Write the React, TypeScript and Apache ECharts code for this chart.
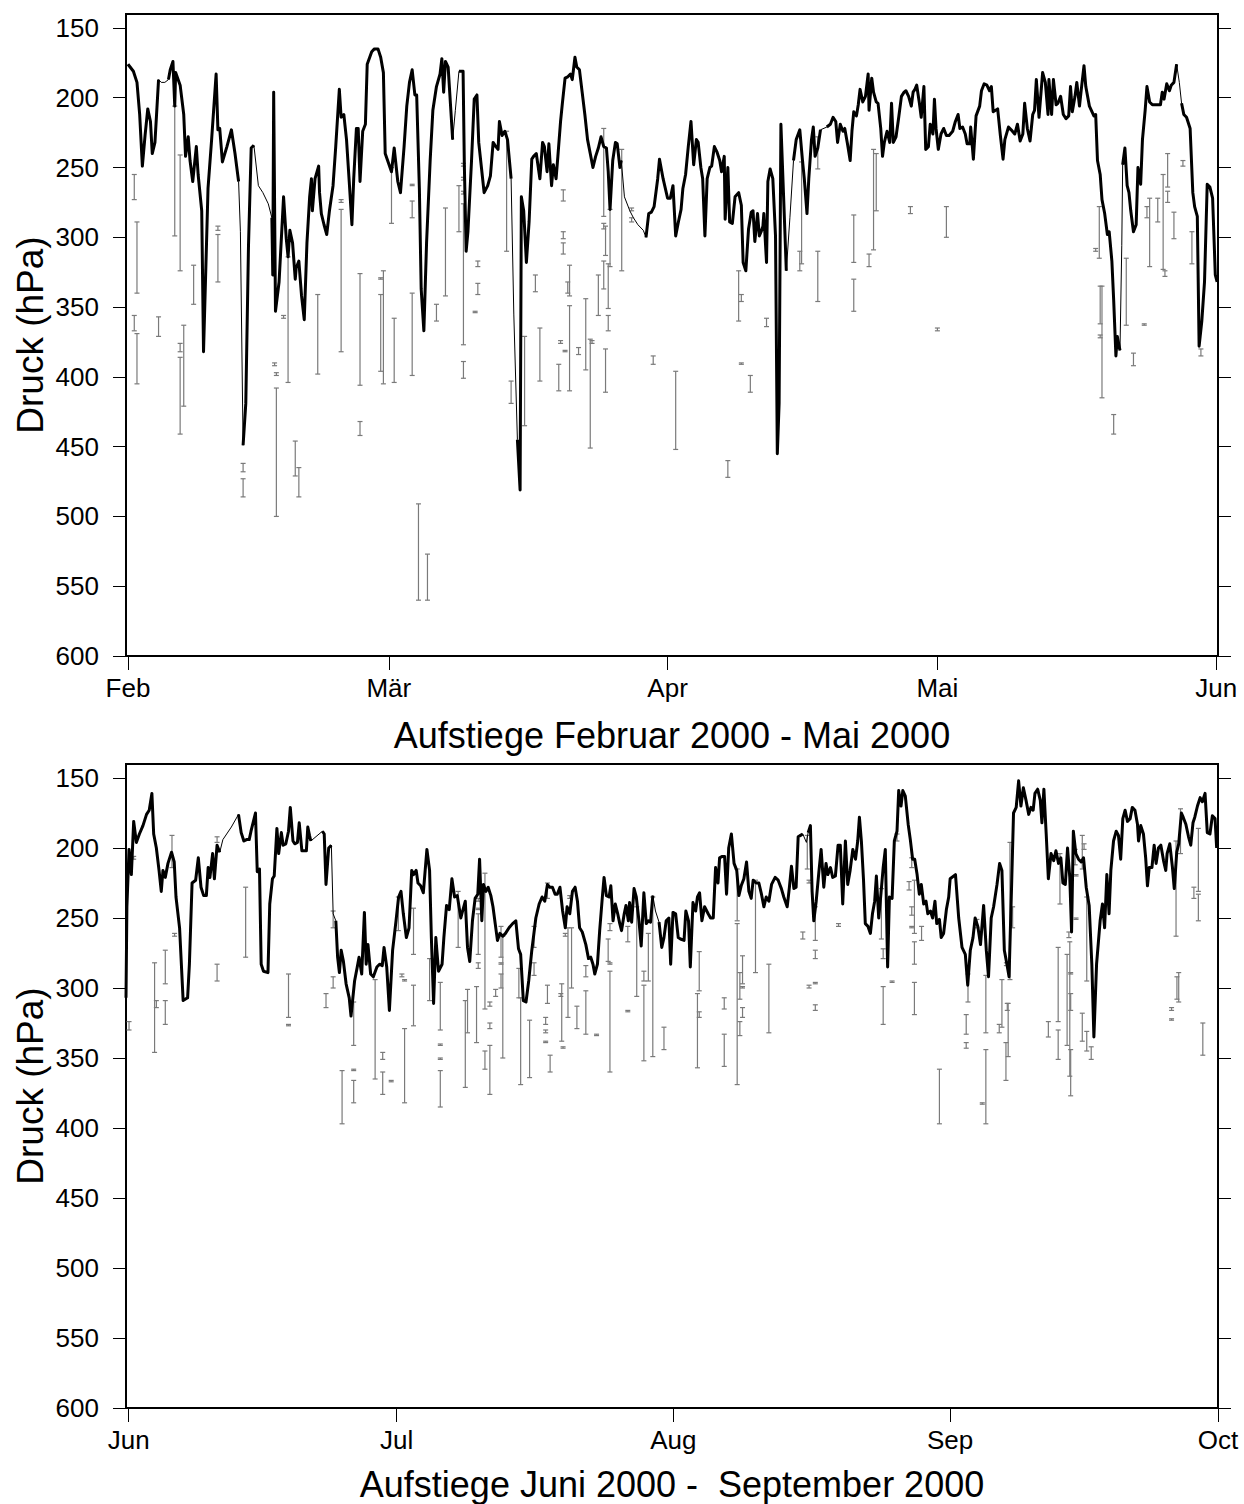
import React, { useEffect, useRef } from 'react';
import * as echarts from 'echarts';

const FONT = '"Liberation Sans", Arial, Helvetica, sans-serif';

// x values: days since first day of the first month in each panel
const febMayMonths = ['Feb', 'Mär', 'Apr', 'Mai', 'Jun'];
const febMayMonthDays = [0, 29, 60, 90, 121];
const junSepMonths = ['Jun', 'Jul', 'Aug', 'Sep', 'Oct'];
const junSepMonthDays = [0, 30, 61, 92, 122];
const pressureTicks = [150, 200, 250, 300, 350, 400, 450, 500, 550, 600];

const febMayTitle = 'Aufstiege Februar 2000 - Mai 2000';
const junSepTitle = 'Aufstiege Juni 2000 -  September 2000';
const yName = 'Druck (hPa)';

// tropopause pressure [day, hPa]
const febMayLine: number[][] = [
  [0,176],[0.6,181],[1.0,189],[1.3,212],[1.6,249],[1.9,227],[2.2,208],[2.5,217],[2.7,240],[3.0,232],[3.4,187],[3.7,189],[4.1,189],[4.5,187],[4.7,180],[5.0,174],[5.2,206],[5.3,182],[5.8,191],[6.2,212],[6.4,242],[6.7,228],[6.9,245],[7.2,260],[7.6,235],[7.8,255],[8.2,281],[8.4,382],[8.9,265],[9.3,230],[9.8,183],[10.0,223],[10.2,222],[10.5,246],[11.0,235],[11.5,223],[11.9,240],[12.3,260],[12.5,296],[12.8,449],[13.1,419],[13.4,306],[13.7,236],[14.0,234],[14.5,263],[15.0,268],[15.6,276],[16.0,286],[16.1,327],[16.2,196],[16.4,353],[16.8,332],[17.3,271],[17.6,301],[17.8,314],[18.0,295],[18.3,304],[18.6,330],[18.7,322],[19.0,317],[19.3,342],[19.6,359],[19.9,304],[20.2,271],[20.4,258],[20.5,281],[20.8,258],[21.2,249],[21.3,268],[21.5,283],[21.8,291],[22.1,298],[22.4,281],[22.8,263],[23.1,235],[23.5,194],[23.7,214],[24.0,212],[24.3,230],[24.6,260],[24.9,291],[25.1,258],[25.4,222],[25.6,222],[25.8,260],[26.1,224],[26.4,219],[26.6,176],[27.1,167],[27.4,165],[27.8,165],[28.1,171],[28.4,182],[28.6,240],
  [29.3,253],[29.6,236],[30.0,260],[30.3,268],[30.7,235],[31.0,206],[31.3,189],[31.6,180],[31.9,198],[32.1,198],[32.4,265],[32.6,337],[32.9,367],[33.2,304],[33.6,245],[33.9,209],[34.3,192],[34.7,183],[34.9,172],[35.1,196],[35.3,174],[35.6,178],[35.9,209],[36.1,230],[36.4,209],[36.8,181],[37.0,181],[37.26,181],[37.4,248],[37.6,310],[37.8,296],[38.2,245],[38.5,201],[38.8,198],[39.0,232],[39.3,250],[39.6,268],[40.0,263],[40.3,256],[40.6,232],[40.9,235],[41.15,237],[41.3,217],[41.6,227],[41.9,224],[42.2,230],[42.6,258],[42.9,355],[43.3,445],[43.6,481],[43.74,271],[44.0,281],[44.3,318],[44.6,289],[44.9,244],[45.1,242],[45.4,240],[45.8,258],[46.1,232],[46.3,235],[46.6,253],[46.8,233],[47.1,263],[47.3,248],[47.6,258],[47.8,242],[48.1,217],[48.3,204],[48.6,186],[48.9,185],[49.2,183],[49.4,187],[49.7,171],[49.9,178],[50.2,180],[50.5,196],[50.8,212],[51.1,230],[51.4,240],[51.7,250],[52.0,242],[52.3,236],[52.6,228],[52.9,235],[53.2,236],[53.4,253],[53.6,280],[53.9,245],[54.2,232],[54.4,233],[54.7,250],[54.85,245],[55.2,271],[55.8,281],[56.2,286],[56.7,291],[57.3,295],[57.6,300],[57.9,283],[58.2,282],[58.5,278],[58.9,258],[59.1,244],[59.5,258],
  [60.0,272],[60.3,272],[60.6,263],[60.9,299],[61.2,289],[61.5,280],[61.7,265],[62.0,255],[62.3,235],[62.6,217],[62.9,248],[63.2,230],[63.4,232],[63.7,250],[63.9,258],[64.15,299],[64.4,258],[64.7,250],[64.9,249],[65.2,235],[65.5,239],[65.8,245],[66.0,253],[66.3,242],[66.4,287],[66.7,250],[66.9,289],[67.2,290],[67.5,271],[67.9,268],[68.2,277],[68.4,318],[68.7,324],[69.0,294],[69.3,282],[69.5,281],[69.7,303],[70.0,283],[70.2,299],[70.4,296],[70.6,292],[70.7,283],[71.0,318],[71.15,260],[71.4,251],[71.7,258],[72.0,299],[72.2,455],[72.4,419],[72.6,219],[72.9,271],[73.2,324],[73.6,286],[74.0,245],[74.3,230],[74.7,223],[75.0,245],[75.2,258],[75.5,283],[75.7,258],[76.0,230],[76.2,221],[76.4,242],[76.7,236],[77.0,223],[77.7,221],[78.1,219],[78.4,214],[78.7,217],[78.9,232],[79.2,219],[79.5,224],[79.7,222],[80.0,233],[80.3,245],[80.5,224],[80.7,210],[81.0,213],[81.2,205],[81.4,194],[81.7,203],[82.0,199],[82.3,183],[82.4,209],[82.7,186],[82.9,196],[83.2,203],[83.4,204],[83.7,222],[83.9,242],[84.1,232],[84.4,224],[84.7,232],[84.9,204],[85.1,232],[85.4,228],[85.7,214],[86.0,199],[86.3,196],[86.5,195],[86.8,199],[87.1,206],[87.3,196],[87.5,194],[87.7,191],[88.0,204],[88.2,214],[88.5,192],[88.7,237],[89.0,235],[89.2,219],[89.5,226],[89.67,201],
  [89.85,222],[90.1,237],[90.4,226],[90.7,222],[91.0,227],[91.3,227],[91.7,224],[92.0,217],[92.3,212],[92.5,222],[92.8,221],[93.1,226],[93.3,233],[93.6,233],[93.7,221],[94.0,244],[94.3,213],[94.7,206],[94.9,195],[95.2,190],[95.5,191],[95.8,195],[96.0,192],[96.2,210],[96.7,208],[97.0,227],[97.3,244],[97.5,230],[97.9,221],[98.2,223],[98.6,226],[98.9,219],[99.2,231],[99.5,226],[99.7,204],[100.0,222],[100.3,231],[100.6,212],[100.8,209],[101.0,187],[101.3,214],[101.5,198],[101.7,182],[102.0,189],[102.3,212],[102.4,187],[102.7,212],[102.9,187],[103.2,205],[103.4,204],[103.7,199],[104.0,212],[104.3,215],[104.6,213],[104.8,192],[105.0,210],[105.3,199],[105.5,189],[105.8,206],[106.0,194],[106.3,177],[106.5,192],[106.9,206],[107.4,213],[107.6,212],[107.8,245],[108.1,255],[108.3,273],[108.6,283],[108.9,298],[109.1,296],[109.4,317],[109.6,345],[109.85,385],[110.0,371],[110.3,381],[110.5,306],[110.6,248],[110.85,236],[111.1,263],[111.3,268],[111.5,281],[111.8,296],[112.1,291],[112.3,250],[112.6,262],[112.8,230],[113.1,209],[113.3,192],[113.6,203],[113.9,205],[114.4,205],[114.8,205],[115.0,196],[115.2,201],[115.5,190],[115.8,195],[116.0,191],[116.3,189],[116.6,176],[116.9,189],[117.15,204],[117.4,212],[117.7,214],[118.1,222],[118.4,268],[118.6,278],[118.9,285],[119.1,378],[119.4,360],[119.7,332],[120.0,262],[120.3,264],[120.6,272],[120.9,327],[121.1,332]
];
// day ranges where observations are missing (line drawn thin)
const febMayGaps: number[][] = [[3.4,4.5],[12.3,12.8],[14.0,16.0],[36.1,36.8],[42.6,43.3],[54.85,57.6],[73.2,74.0],[76.9,77.7],[110.3,110.6],[116.6,117.2]];

// error bars [day, upper hPa, lower hPa]
const febMayBars: number[][] = [
  [0.7,255,273],[1.0,289,340],[0.7,356,367],[1.0,369,405],[3.4,357,371],[5.2,206,299],[5.8,241,324],[5.8,376,382],[5.8,386,441],[6.2,363,421],[7.3,320,348],[10.0,292,295],[10.0,298,332],[12.8,462,468],[12.8,473,486],[16.3,390,392],[16.5,397,399],[16.5,408,500],[17.3,356,358],[17.8,314,404],[18.6,446,471],[19.0,465,486],[21.1,341,398],[23.7,273,275],[23.7,280,382],[25.8,326,406],[25.8,432,442],[28.1,329,330],[28.1,341,396],[28.4,324,405],[29.3,250,290],[29.6,358,404],
  [31.6,262,263],[31.6,274,286],[31.6,340,399],[32.3,491,560],[33.3,527,560],[34.3,348,360],[35.3,279,342],[36.8,263,296],[37.3,247,249],[37.3,257,259],[37.3,267,269],[37.3,276,377],[37.3,389,401],[38.9,317,321],[38.9,333,341],[38.6,353,354],[42.1,224,310],[42.6,403,419],[44.1,371,435],[45.3,327,339],[45.8,365,403],[48.4,266,274],[48.4,296,301],[48.4,304,312],[48.1,374,376],[48.6,381,382],[47.9,391,410],[48.9,332,340],[49.1,320,342],[49.1,349,410],[50.1,379,384],[50.9,344,395],[51.4,373,451],[51.6,374,376],[52.3,327,356],[52.9,222,285],[52.9,290,294],[52.9,317,337],[53.1,292,313],[53.1,380,411],[53.4,319,351],[53.4,356,367],[53.6,280,321],[54.9,237,324],[56.0,279,281],[56.0,286,289],[58.4,385,391],
  [60.9,396,452],[66.7,460,472],[67.9,324,360],[68.2,341,346],[68.2,390,391],[69.2,399,411],[71.0,358,364],[74.7,310,324],[74.9,246,319],[76.7,228,251],[76.7,310,346],[80.7,284,318],[80.7,330,353],[82.4,312,321],[82.9,237,309],[83.2,240,281],[87.0,278,283],[90.0,365,367],[91.0,278,300],
  [107.6,308,310],[108.0,278,315],[108.1,335,362],[108.1,370,372],[108.3,335,415],[109.6,427,441],[111.0,315,363],[111.8,383,392],[113.0,362,363],[113.3,278,286],[113.6,272,321],[114.5,272,289],[115.1,255,323],[115.3,324,328],[115.6,240,264],[115.6,267,275],[116.3,282,301],[117.3,245,249],[118.3,296,319],[119.3,380,385]
];

const junSepLine: number[][] = [
  [-0.3,307],[-0.2,242],[0.04,201],[0.3,219],[0.56,181],[0.86,196],[1.2,190],[1.6,184],[2.0,176],[2.3,173],[2.6,161],[2.8,190],[3.1,200],[3.4,216],[3.65,231],[3.84,216],[4.1,221],[4.4,211],[4.8,203],[5.1,210],[5.3,235],[5.7,257],[6.1,309],[6.6,307],[6.8,283],[7.1,225],[7.5,223],[7.8,207],[8.1,228],[8.4,234],[8.7,234],[8.9,214],[9.1,221],[9.4,204],[9.6,222],[9.9,198],[10.2,203],[10.55,194],[11.5,185],[12.3,176],[12.6,189],[12.9,195],[13.2,194],[13.5,194],[13.7,188],[14.2,175],[14.4,217],[14.65,215],[14.84,283],[15.1,288],[15.6,289],[15.8,240],[16.1,222],[16.3,220],[16.6,186],[16.8,204],[17.1,189],[17.3,198],[17.6,197],[17.9,188],[18.1,171],[18.4,195],[18.6,197],[18.9,196],[19.1,182],[19.4,202],[19.6,202],[19.9,202],[20.06,185],[20.25,191],[20.4,195],[21.7,188],[21.9,190],[22.1,226],[22.4,200],[22.7,198],[22.9,247],[23.2,252],[23.4,278],[23.6,289],[23.8,273],[24.05,281],[24.35,297],[24.7,307],[24.9,320],[25.3,295],[25.6,285],[25.8,278],[26.1,290],[26.4,246],[26.6,283],[26.8,269],[27.1,290],[27.4,292],[27.8,285],[28.1,283],[28.4,284],[28.6,271],[28.9,285],[29.2,316],
  [29.56,273],[29.94,252],[30.23,235],[30.5,231],[30.76,247],[31.1,264],[31.4,257],[31.7,216],[31.9,219],[32.2,216],[32.4,225],[32.7,227],[33.0,232],[33.4,201],[33.7,216],[33.9,264],[34.15,311],[34.4,264],[34.7,288],[35.1,283],[35.3,264],[35.6,241],[35.9,244],[36.2,222],[36.5,235],[36.8,234],[37.2,250],[37.4,245],[37.7,238],[37.95,271],[38.2,281],[38.5,252],[38.8,236],[39.1,233],[39.3,208],[39.55,252],[39.74,226],[40.0,231],[40.26,228],[40.56,234],[40.8,242],[41.05,254],[41.3,266],[41.57,261],[41.9,263],[42.2,261],[42.6,257],[43.0,254],[43.36,252],[43.66,272],[43.9,276],[44.2,309],[44.5,310],[44.8,295],[45.15,273],[45.6,250],[45.97,240],[46.3,235],[46.6,238],[46.9,226],[47.16,228],[47.46,228],[47.76,233],[48.0,233],[48.3,228],[48.6,245],[48.9,257],[49.1,242],[49.4,247],[49.7,231],[50.0,228],[50.26,238],[50.5,257],[50.8,260],[51.2,269],[51.5,279],[51.75,278],[52.0,283],[52.2,290],[52.5,283],[52.75,259],[53.05,235],[53.24,221],[53.5,234],[53.8,235],[54.0,227],[54.25,252],[54.5,240],[54.77,247],[55.0,254],[55.2,259],[55.5,247],[55.7,241],[55.96,252],[56.1,239],[56.33,253],[56.6,229],[56.85,235],[57.15,252],[57.4,270],[57.7,232],[57.97,254],[58.2,252],[58.45,253],[58.7,234],[59.0,245],[59.4,253],[59.7,271],[59.95,264],[60.2,252],[60.5,250],[60.7,283],[60.96,246],[61.26,247],[61.55,264],
  [61.8,265],[62.2,266],[62.4,245],[62.7,252],[62.9,285],[63.2,239],[63.5,245],[63.7,235],[63.94,232],[64.2,252],[64.5,242],[64.9,247],[65.17,250],[65.47,250],[65.73,214],[66.0,225],[66.18,207],[66.48,206],[66.74,206],[66.96,233],[67.2,200],[67.5,190],[67.8,211],[68.1,216],[68.34,234],[68.6,227],[68.9,222],[69.2,210],[69.46,231],[69.72,236],[69.94,223],[70.28,225],[70.58,225],[70.87,233],[71.14,242],[71.4,235],[71.7,238],[72.0,226],[72.4,221],[72.74,223],[73.1,229],[73.37,235],[73.75,242],[74.0,228],[74.23,213],[74.5,229],[74.75,228],[74.98,192],[75.24,191],[75.5,190],[75.9,196],[76.1,189],[76.35,184],[76.54,231],[76.73,252],[77.0,238],[77.3,217],[77.55,201],[77.85,228],[78.1,211],[78.3,219],[78.6,214],[78.85,221],[79.15,220],[79.45,198],[79.7,198],[79.97,240],[80.27,195],[80.53,226],[80.8,216],[81.1,201],[81.4,208],[81.65,195],[81.84,178],[82.06,195],[82.3,223],[82.5,254],[82.8,256],[83.07,261],[83.3,247],[83.55,238],[83.74,220],[84.0,250],[84.26,232],[84.5,214],[84.74,201],[85.0,285],[85.2,235],[85.5,236],[85.75,195],[86.05,188],[86.24,159],[86.5,170],[86.7,159],[86.98,163],[87.3,183],[87.54,194],[87.8,208],[88.03,208],[88.3,219],[88.55,233],[88.77,226],[89.04,240],[89.3,238],[89.5,247],[89.8,245],[90.04,250],[90.3,238],[90.5,254],[90.8,251],[91.0,264],[91.27,261],
  [91.58,244],[91.84,235],[92.0,222],[92.6,219],[92.96,250],[93.33,271],[93.7,276],[93.97,298],[94.26,273],[94.56,264],[94.8,250],[95.1,256],[95.4,269],[95.75,241],[96.05,273],[96.3,292],[96.6,250],[96.87,242],[97.25,226],[97.54,211],[97.8,216],[98.07,273],[98.36,283],[98.6,292],[98.9,223],[99.1,175],[99.4,171],[99.67,152],[99.93,170],[100.2,157],[100.5,166],[100.8,176],[101.05,171],[101.3,173],[101.5,161],[101.8,158],[102.1,166],[102.28,182],[102.5,158],[102.76,190],[103.0,222],[103.3,204],[103.6,209],[103.85,202],[104.14,211],[104.4,207],[104.63,225],[104.9,226],[105.15,200],[105.4,221],[105.6,260],[105.8,188],[106.08,204],[106.38,208],[106.68,210],[106.94,207],[107.24,228],[107.57,241],[107.87,283],[108.1,335],[108.4,283],[108.8,252],[109.06,240],[109.3,257],[109.55,219],[109.8,247],[110.0,216],[110.3,195],[110.6,188],[110.85,191],[111.1,208],[111.34,179],[111.6,173],[111.86,181],[112.16,179],[112.4,171],[112.7,173],[112.98,183],[113.1,195],[113.35,184],[113.65,190],[113.9,207],[114.1,227],[114.3,214],[114.6,214],[114.85,198],[115.07,211],[115.33,200],[115.6,198],[115.9,209],[116.15,216],[116.3,204],[116.6,197],[116.9,214],[117.1,229],[117.38,203],[117.6,197],[117.9,175],[118.1,178],[118.4,183],[118.7,192],[118.95,198],[119.2,182],[119.4,178],[119.7,170],[120.0,164],[120.25,167],[120.55,161],[120.8,189],[121.1,190],[121.37,177],[121.67,179],[121.85,200]
];
const junSepGaps: number[][] = [[10.2,12.3],[20.4,21.7],[22.7,23.2],[58.7,59.4],[75.5,76.1]];

const junSepBars: number[][] = [
  [0.04,324,330],[0.56,206,208],[2.9,282,346],[3.1,309,314],[4.1,273,297],[4.1,309,326],[4.85,191,214],[5.14,261,263],[9.9,283,295],[9.9,192,196],[13.1,228,278],[17.9,290,321],[17.9,326,327],[22.9,245,257],[22.9,292,300],[22.1,304,314],[23.9,359,397],[25.2,310,341],[25.2,358,359],[25.2,366,382],[27.6,294,365],[28.45,346,351],[28.45,360,376],[29.4,366,367],[30.2,235,259],
  [30.6,290,292],[30.9,294,295],[30.9,329,382],[31.9,243,276],[31.9,298,327],[33.7,279,309],[34.9,296,330],[34.9,340,341],[34.9,350,351],[34.9,359,385],[36.9,231,271],[37.7,309,371],[37.95,301,332],[38.96,299,339],[39.15,236,238],[39.15,243,244],[39.15,247,276],[39.15,282,286],[39.9,218,315],[39.9,345,358],[40.45,310,313],[40.45,325,329],[40.45,341,376],[41.1,301,306],[41.7,256,278],[41.7,282,283],[41.7,290,300],[41.9,263,350],[43.7,286,307],[43.9,307,369],[44.9,323,364],[45.4,256,271],[45.4,282,291],[46.9,225,236],[46.9,298,311],[46.7,321,326],[46.7,330,332],[46.7,338,339],[47.2,348,360],[48.4,304,306],[48.5,297,338],[48.65,342,343],[48.9,261,263],[49.2,257,321],[49.6,257,300],[49.4,234,236],[50.2,313,329],[51.2,284,292],[51.2,302,333],[52.4,333,334],[53.9,254,259],[53.7,265,281],[53.9,282,283],[53.9,288,360],[55.9,256,267],[55.9,316,317],[56.9,242,306],[57.7,288,295],[57.7,298,352],[58.2,261,295],[58.7,235,349],[59.95,328,344],
  [63.7,304,357],[63.9,274,302],[63.9,317,321],[66.7,307,315],[66.7,333,356],[68.15,215,252],[68.15,254,369],[68.45,289,308],[68.45,324,334],[68.75,277,297],[68.75,299,300],[68.75,314,321],[70.2,223,289],[71.7,283,332],[75.5,260,265],[76.0,191,215],[76.2,223,225],[76.2,298,300],[76.9,242,266],[76.9,273,279],[76.9,296,297],[76.9,312,316],[79.5,254,256],[84.3,229,265],[84.5,272,279],[84.5,299,326],[85.5,295,296],[86.05,190,195],[87.4,224,230],[87.7,207,214],[87.7,242,248],[87.7,256,257],[88.0,223,261],[88.0,267,283],[88.0,296,319],[88.8,256,266],[90.8,358,397],
  [93.8,319,333],[93.8,339,343],[94.0,290,310],[95.0,251,257],[95.6,382,383],[96.0,291,332],[96.0,344,397],[97.5,326,332],[97.8,294,328],[98.25,339,366],[98.4,311,316],[98.5,311,349],[98.3,282,284],[98.7,196,294],[99.0,242,257],[103.0,324,335],[104.1,271,324],[104.1,330,351],[104.3,204,240],[105.1,276,341],[105.3,260,264],[105.4,267,363],[105.5,289,290],[105.5,304,316],[105.5,344,377],[106.1,219,220],[106.1,250,251],[106.0,201,212],[106.8,191,215],[106.8,318,338],[107.0,197,201],[107.3,235,295],[107.3,331,345],[107.8,342,351],[116.8,314,316],[116.8,322,323],[117.3,195,263],[117.4,292,308],[117.6,289,310],[117.8,172,204],[119.3,228,236],[119.8,186,231],[119.8,233,252],[120.3,325,348]
];

function thickData(pts: number[][], gaps: number[][]) {
  const out: any[] = [];
  for (let i = 0; i < pts.length; i++) {
    out.push(pts[i]);
    if (i < pts.length - 1) {
      const m = (pts[i][0] + pts[i + 1][0]) / 2;
      if (gaps.some((g) => m > g[0] && m < g[1])) out.push([m, '-']);
    }
  }
  return out;
}

const GRID_LEFT = 126;
const GRID_WIDTH = 1092;

const panels = [
  { top: 14, height: 642, xmin: -0.22, xmax: 121.2, names: febMayMonths, days: febMayMonthDays, line: febMayLine, gaps: febMayGaps, bars: febMayBars, title: febMayTitle, titleY: 735 },
  { top: 764, height: 644, xmin: -0.3, xmax: 122.0, names: junSepMonths, days: junSepMonthDays, line: junSepLine, gaps: junSepGaps, bars: junSepBars, title: junSepTitle, titleY: 1484 },
];

function buildOption() {
  const grid: any[] = [];
  const xAxis: any[] = [];
  const yAxis: any[] = [];
  const series: any[] = [];
  const graphic: any[] = [];
  panels.forEach((p, i) => {
    grid.push({ left: GRID_LEFT, top: p.top, width: GRID_WIDTH, height: p.height, show: true, borderColor: '#000', borderWidth: 2, backgroundColor: 'transparent', containLabel: false });
    xAxis.push({
      type: 'value', gridIndex: i, min: p.xmin, max: p.xmax, position: 'bottom',
      axisLine: { show: true, onZero: false, lineStyle: { color: '#000', width: 2 } },
      axisTick: { show: true, inside: false, length: 14, customValues: p.days, lineStyle: { color: '#000', width: 1 } },
      axisLabel: {
        show: true, customValues: p.days, margin: 19, color: '#000', fontSize: 26, fontFamily: FONT, showMinLabel: true, showMaxLabel: true,
        formatter: (v: number) => { const k = p.days.indexOf(Math.round(v)); return k >= 0 ? p.names[k] : ''; },
      },
      splitLine: { show: false },
    });
    ['left', 'right'].forEach((pos) => {
      yAxis.push({
        type: 'value', gridIndex: i, position: pos, inverse: true, min: 140, max: 600,
        axisLine: { show: true, onZero: false, lineStyle: { color: '#000', width: 2 } },
        axisTick: { show: true, inside: false, length: 13, customValues: pressureTicks, lineStyle: { color: '#000', width: 1 } },
        axisLabel: { show: pos === 'left', customValues: pressureTicks, margin: 27, color: '#000', fontSize: 26, fontFamily: FONT },
        splitLine: { show: false },
      });
    });
    const yIdx = i * 2;
    series.push({
      type: 'custom', xAxisIndex: i, yAxisIndex: yIdx, z: 2,
      encode: { x: 0, y: [1, 2] },
      data: p.bars,
      renderItem: (params: any, api: any) => {
        const x = api.value(0);
        const a = api.coord([x, api.value(1)]);
        const b = api.coord([x, api.value(2)]);
        const w = 2.5;
        const st = { stroke: '#7a7a7a', lineWidth: 1.2 };
        return {
          type: 'group',
          children: [
            { type: 'line', shape: { x1: a[0], y1: a[1], x2: b[0], y2: b[1] }, style: st },
            { type: 'line', shape: { x1: a[0] - w, y1: a[1], x2: a[0] + w, y2: a[1] }, style: st },
            { type: 'line', shape: { x1: b[0] - w, y1: b[1], x2: b[0] + w, y2: b[1] }, style: st },
          ],
        };
      },
    });
    series.push({
      type: 'line', xAxisIndex: i, yAxisIndex: yIdx, z: 3,
      data: p.line, symbol: 'none', showSymbol: false, connectNulls: true,
      lineStyle: { color: '#000', width: 1 }, clip: true,
    });
    series.push({
      type: 'line', xAxisIndex: i, yAxisIndex: yIdx, z: 4,
      data: thickData(p.line, p.gaps), symbol: 'none', showSymbol: false, connectNulls: false,
      lineStyle: { color: '#000', width: 3, join: 'round' }, clip: true,
    });
    graphic.push({
      type: 'text', x: GRID_LEFT + GRID_WIDTH / 2, y: p.titleY,
      style: { text: p.title, fontSize: 36, fontFamily: FONT, fill: '#000', textAlign: 'center', textVerticalAlign: 'middle' },
    });
    graphic.push({
      type: 'text', x: 30, y: p.top + p.height / 2, rotation: Math.PI / 2,
      style: { text: yName, fontSize: 37, fontFamily: FONT, fill: '#000', textAlign: 'center', textVerticalAlign: 'middle' },
    });
  });
  return { animation: false, backgroundColor: '#fff', grid, xAxis, yAxis, series, graphic };
}

export default function App() {
  const ref = useRef<HTMLDivElement>(null);
  useEffect(() => {
    if (!ref.current) return;
    const chart = echarts.init(ref.current, null, { renderer: 'svg' });
    chart.setOption(buildOption() as any);
    return () => chart.dispose();
  }, []);
  return <div ref={ref} style={{ position: 'absolute', left: 0, top: 0, width: 1244, height: 1504, background: '#fff' }} />;
}
